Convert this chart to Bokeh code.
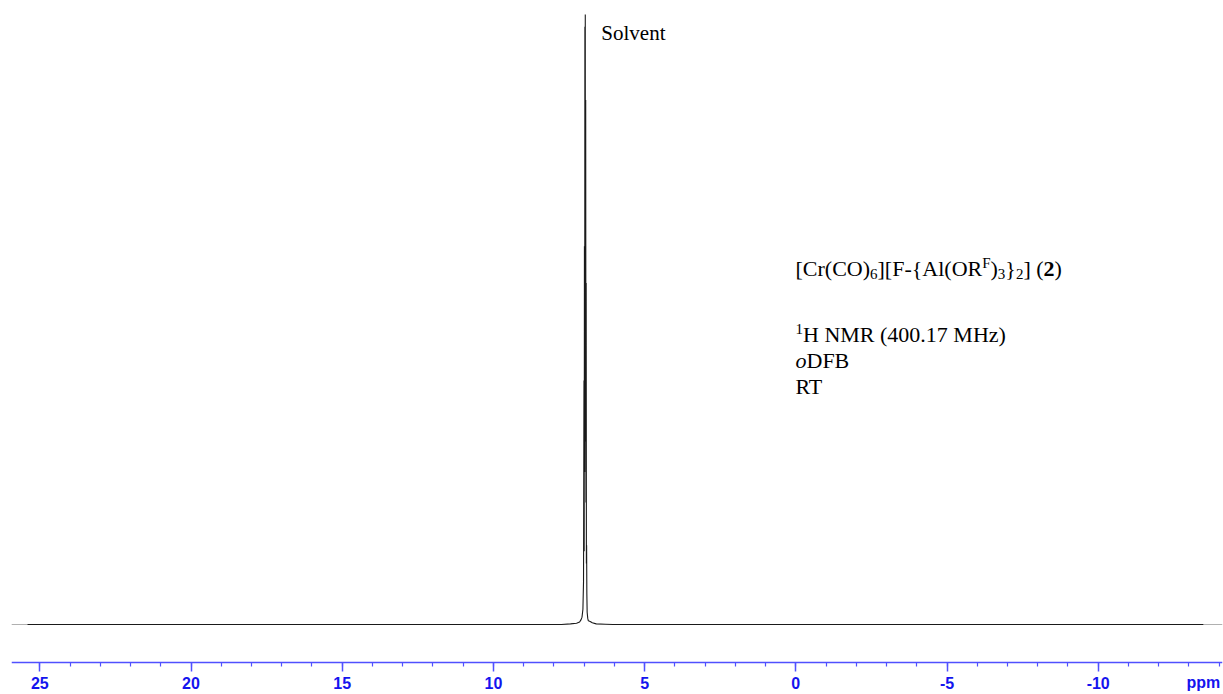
from bokeh.plotting import figure
from bokeh.models import Range1d, LinearAxis, FixedTicker, Label
from bokeh.embed import file_html
from bokeh.resources import INLINE

# 1H NMR trace (chemical shift in ppm, relative intensity)
spectrum_ppm = [25.41, 7.75, 7.45, 7.25, 7.15, 7.10, 7.07, 7.04, 7.02, 7.005, 6.998,
                6.99, 6.982, 6.975, 6.968, 6.962, 6.955, 6.948, 6.94, 6.932, 6.925,
                6.918, 6.91, 6.90, 6.88, 6.86, 6.80, 6.73, 6.60, 6.30, 6.05, -13.48]
spectrum_int = [0.0, 0.0, 0.001, 0.002, 0.004, 0.008, 0.012, 0.025, 0.07, 0.40, 0.12,
                0.62, 0.25, 0.98, 0.45, 1.00, 0.30, 0.86, 0.20, 0.56, 0.10,
                0.13, 0.05, 0.02, 0.010, 0.006, 0.005, 0.003, 0.001, 0.0005, 0.0, 0.0]
# faint ends of the recorded window
edge_left_ppm = [25.94, 25.41]
edge_right_ppm = [-13.48, -14.11]
edge_int = [0.0, 0.0]

major_ticks = [25, 20, 15, 10, 5, 0, -5, -10]
minor_ticks = list(range(-14, 26))
tick_labels = ["25", "20", "15", "10", "5", "0", "-5", "-10"]
unit_label = "ppm"
unit_pos = -13.48
solvent_ppm = 6.96

FRAME_LEFT = 11
FRAME_BOTTOM = 694
Y0 = -0.11475          # intensity at the bottom edge of the canvas
PX = 610.0             # pixels per unit intensity
AXIS_Y = Y0 + 32 / PX  # axis line sits 32 px above the bottom edge

p = figure(width=1223, height=694,
           x_range=Range1d(25.936, -14.11), y_range=Range1d(Y0, Y0 + 694 / PX),
           output_backend="svg", toolbar_location=None,
           x_axis_location=None, y_axis_location=None,
           min_border_left=FRAME_LEFT, min_border_right=1,
           min_border_top=0, min_border_bottom=0)
p.outline_line_color = None
p.grid.visible = False
p.background_fill_color = "white"
p.border_fill_color = "white"

p.line(edge_left_ppm, edge_int, line_color="#b0b0b0", line_width=1.2)
p.line(edge_right_ppm, edge_int, line_color="#b0b0b0", line_width=1.2)
p.line(spectrum_ppm, spectrum_int, line_color="#1a1a1a", line_width=1.1)

axis = LinearAxis(ticker=FixedTicker(ticks=major_ticks, minor_ticks=minor_ticks),
                  fixed_location=AXIS_Y)
axis.major_label_overrides = {t: s for t, s in zip(major_ticks, tick_labels)}
axis.axis_line_color = "#5050ff"
axis.axis_line_width = 1.5
axis.major_tick_line_color = "#5050ff"
axis.minor_tick_line_color = "#5050ff"
axis.major_tick_line_width = 1.5
axis.minor_tick_line_width = 1.2
axis.major_tick_out = 9
axis.major_tick_in = 0
axis.minor_tick_out = 4
axis.minor_tick_in = 0
axis.major_label_standoff = 5
axis.major_label_text_font = "Liberation Sans"
axis.major_label_text_font_style = "bold"
axis.major_label_text_font_size = "16px"
axis.major_label_text_color = "#1414ee"
p.add_layout(axis, "below")

p.add_layout(Label(x=unit_pos, y=Y0 + 12 / PX, x_units="data", y_units="data",
                   text=unit_label, text_font="Liberation Sans", text_font_style="bold",
                   text_font_size="16px", text_color="#1414ee",
                   text_align="center", text_baseline="middle"))

# Times-style advance widths (per 1000 em) for laying out the annotation runs
WIDTHS = {"[": 333, "]": 333, "C": 667, "r": 333, "(": 333, ")": 333, "O": 722,
          "F": 556, "-": 333, "{": 480, "}": 480, "A": 722, "l": 278, "R": 667,
          " ": 250, ".": 250, "H": 722, "N": 722, "M": 889, "z": 444, "o": 500,
          "D": 722, "B": 667, "T": 611, "S": 556, "v": 500, "e": 444, "n": 500,
          "t": 278}
for d in "0123456789":
    WIDTHS[d] = 500

BASE = 22
SMALL = 15


def put(text, x, y, size, style="normal"):
    p.add_layout(Label(x=x - FRAME_LEFT, y=FRAME_BOTTOM - y, x_units="screen", y_units="screen",
                       text=text, text_font="Liberation Serif", text_font_size=f"{size}px",
                       text_font_style=style, text_color="black",
                       text_align="left", text_baseline="alphabetic"))


def line_of_runs(runs, x0, baseline):
    x = x0
    for text, kind in runs:
        size = SMALL if kind in ("sub", "sup") else BASE
        dy = 5 if kind == "sub" else (-6 if kind == "sup" else 0)
        style = {"bold": "bold", "italic": "italic"}.get(kind, "normal")
        put(text, x, baseline + dy, size, style)
        x += sum(WIDTHS.get(c, 500) for c in text) * size / 1000.0


line_of_runs([("[Cr(CO)", "base"), ("6", "sub"), ("][F-{Al(OR", "base"), ("F", "sup"),
              (")", "base"), ("3", "sub"), ("}", "base"), ("2", "sub"), ("] (", "base"),
              ("2", "bold"), (")", "base")], 795, 268)
line_of_runs([("1", "sup"), ("H NMR (400.17 MHz)", "base")], 795, 334)
line_of_runs([("o", "italic"), ("DFB", "base")], 795, 360)
line_of_runs([("RT", "base")], 795, 386)

# solvent peak annotation
p.add_layout(Label(x=solvent_ppm, y=FRAME_BOTTOM - 32, x_units="data", y_units="screen",
                   x_offset=16, text="Solvent", text_font="Liberation Serif",
                   text_font_size="21px", text_color="black",
                   text_align="left", text_baseline="alphabetic"))

open("out.html", "w").write(file_html(p, INLINE))
